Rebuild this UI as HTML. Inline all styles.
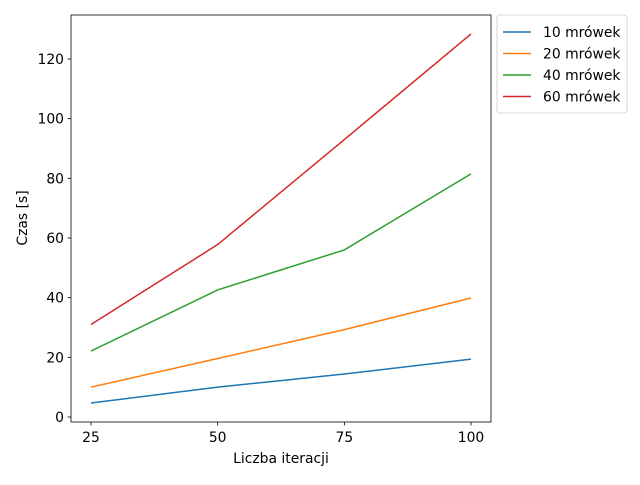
<!DOCTYPE html>
<html><head><meta charset="utf-8"><style>body{margin:0;background:#fff}svg{font-family:"DejaVu Sans","Liberation Sans",sans-serif}</style></head>
<body>
<svg id="chart" width="640" height="480"></svg>
<script>
const categories=[25,50,75,100];
const seriesNames=["10 mrówek","20 mrówek","40 mrówek","60 mrówek"];
const s10=[4.7,10.0,14.4,19.4];
const s20=[10.0,19.6,29.3,39.9];
const s40=[22.1,42.6,56.0,81.5];
const s60=[31.0,57.8,93.0,128.4];
const xTicks=[25,50,75,100];
const yTicks=[0,20,40,60,80,100,120];
const colors=["#1f77b4","#ff7f0e","#2ca02c","#d62728"];
const all=[s10,s20,s40,s60];
const L=71,R=491,T=15,B=422;
const FS=13.9;
const x=v=>91+(v-25)*380/75;
const y=v=>417-v*358/120;
const svg=document.getElementById('chart');
const NS="http://www.w3.org/2000/svg";
function mk(t,a,p){const e=document.createElementNS(NS,t);for(const k in a)e.setAttribute(k,a[k]);(p||svg).appendChild(e);return e;}
all.forEach((s,i)=>{
 const p=mk('polyline',{points:s.map((v,j)=>x(categories[j])+','+y(v)).join(' '),fill:'none',stroke:colors[i],'stroke-width':1.5});
 
 
});
const frame=mk('rect',{x:L,y:T,width:R-L,height:B-T,fill:'none',stroke:'#000','stroke-width':0.8});


xTicks.forEach(v=>{
 mk('line',{x1:x(v),x2:x(v),y1:B,y2:B+3.5,stroke:'#000','stroke-width':0.8});
 const t=mk('text',{x:x(v),y:B+20,'text-anchor':'middle','font-size':FS});t.textContent=v;
 
 
});
yTicks.forEach(v=>{
 mk('line',{x1:L,x2:L-3.5,y1:y(v),y2:y(v),stroke:'#000','stroke-width':0.8});
 const t=mk('text',{x:L-7,y:y(v)+5,'text-anchor':'end','font-size':FS});t.textContent=v;
 
 
});
const xt=mk('text',{x:281,y:463,'text-anchor':'middle','font-size':FS});xt.textContent='Liczba iteracji';


const yt=mk('text',{x:0,y:0,'text-anchor':'middle','font-size':FS,transform:'translate(27,218) rotate(-90)'});yt.textContent='Czas [s]';


const lg=mk('g',{});


mk('rect',{x:497,y:15,width:130,height:98,rx:3,fill:'#fff',stroke:'#ccc','stroke-width':0.8},lg);
seriesNames.forEach((n,i)=>{
 const yy=32+i*21.5;
 const e=mk('g',{},lg);
 
 
 mk('line',{x1:503,x2:531,y1:yy,y2:yy,stroke:colors[i],'stroke-width':1.5},e);
 const t=mk('text',{x:543,y:yy+5,'font-size':FS},e);t.textContent=n;
});
</script>
</body></html>
